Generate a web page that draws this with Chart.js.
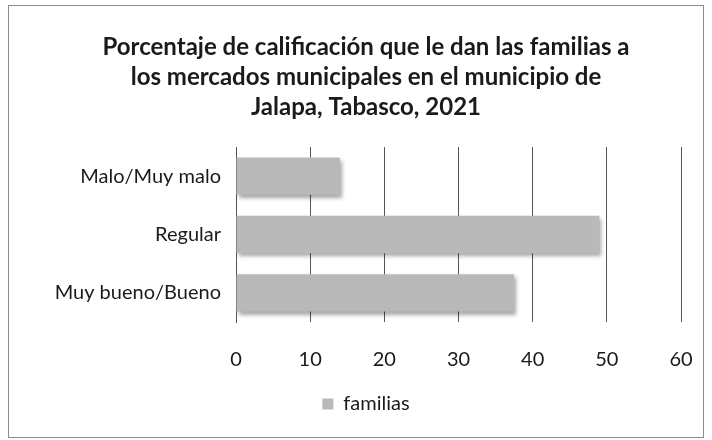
<!DOCTYPE html>
<html>
<head>
<meta charset="utf-8">
<script src="https://cdn.jsdelivr.net/npm/chart.js@4"></script>
<style>
  body { margin: 0; background: #fff; }
  #wrap { width: 712px; height: 440px; }
</style>
</head>
<body>
<div id="wrap"><canvas id="grafico"></canvas></div>
<script>
// Datos
const categorias = ['Malo/Muy malo', 'Regular', 'Muy bueno/Bueno'];
const familias = [14, 49, 37.5];
const titulo = [
  'Porcentaje de calificación que le dan las familias a',
  'los mercados municipales en el municipio de',
  'Jalapa, Tabasco, 2021'
];

// marco alrededor del gráfico
const marco = {
  id: 'marco',
  beforeDraw(chart) {
    const c = chart.ctx;
    c.save();
    c.strokeStyle = '#8c8c8c';
    c.lineWidth = 1;
    c.strokeRect(8.5, 5.5, 695, 432);
    c.restore();
  }
};

// sombra de las barras
const sombra = {
  id: 'sombra',
  beforeDatasetDraw(chart) {
    const c = chart.ctx;
    c.save();
    c.shadowColor = 'rgba(0,0,0,0.35)';
    c.shadowOffsetX = 2;
    c.shadowOffsetY = 3;
    c.shadowBlur = 4;
  },
  afterDatasetDraw(chart) {
    chart.ctx.restore();
  }
};

const ctx = document.getElementById('grafico').getContext('2d');
new Chart(ctx, {
  type: 'bar',
  data: {
    labels: categorias,
    datasets: [{
      label: 'familias',
      data: familias,
      backgroundColor: '#b9b9b9',
      barPercentage: 0.64,
      categoryPercentage: 1
    }]
  },
  options: {
    indexAxis: 'y',
    responsive: true,
    maintainAspectRatio: false,
    animation: false,
    layout: { padding: { left: 51, right: 31, top: 0, bottom: 16 } },
    plugins: {
      title: {
        display: true,
        text: titulo,
        color: '#1a1a1a',
        font: { family: 'Lato', size: 24, weight: 'bold', lineHeight: 1.25 },
        padding: { top: 32, bottom: 25 }
      },
      legend: {
        position: 'bottom',
        labels: {
          color: '#1a1a1a',
          font: { family: 'Lato', size: 20 },
          boxWidth: 11,
          boxHeight: 11,
          padding: 10
        }
      },
      tooltip: { enabled: false }
    },
    scales: {
      x: {
        min: 0,
        max: 60,
        afterFit: s => { s.height = 62; s.paddingLeft = 0; s.paddingRight = 0; },
        ticks: { stepSize: 10, color: '#1a1a1a', font: { family: 'Lato', size: 20 }, padding: 26 },
        grid: { color: '#555', drawTicks: false },
        border: { display: false }
      },
      y: {
        afterFit: s => { s.width = 185; },
        ticks: { color: '#1a1a1a', font: { family: 'Lato', size: 20 }, padding: 15 },
        grid: { display: false, drawTicks: false },
        border: { display: true, color: '#555' }
      }
    }
  },
  plugins: [marco, sombra]
});
</script>
</body>
</html>
